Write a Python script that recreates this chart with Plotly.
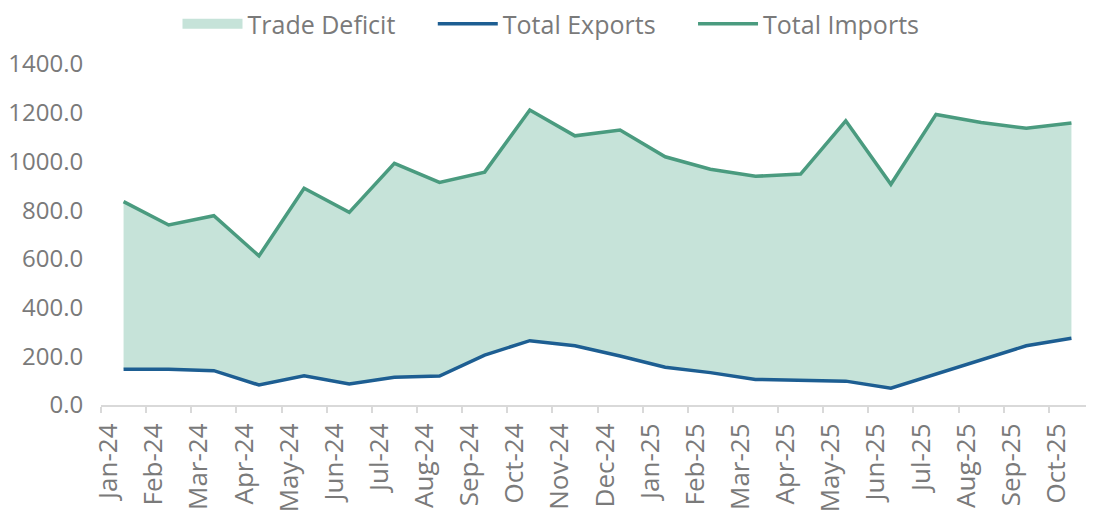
import plotly.graph_objects as go

months = ["Jan-24", "Feb-24", "Mar-24", "Apr-24", "May-24", "Jun-24", "Jul-24", "Aug-24",
          "Sep-24", "Oct-24", "Nov-24", "Dec-24", "Jan-25", "Feb-25", "Mar-25", "Apr-25",
          "May-25", "Jun-25", "Jul-25", "Aug-25", "Sep-25", "Oct-25"]
total_exports = [147, 147, 141, 82, 120, 86, 114, 119, 205, 264, 243, 201,
                 155, 133, 105, 103, 98, 69, 126, 185, 243, 274]
total_imports = [835, 739, 777, 612, 890, 791, 992, 914, 956, 1211, 1105, 1129,
                 1019, 968, 939, 948, 1167, 906, 1193, 1160, 1136, 1158]
y_ticks = [0, 200, 400, 600, 800, 1000, 1200, 1400]

BLUE = "#1D5E92"
GREEN = "#4A9B7F"
FILL = "#C6E3D9"
TEXT = "#7A7A7A"
AXIS = "#D9D9D9"
FONT = "Open Sans"
PAD = "\u00a0" * 5  # spacing between legend entries

x = list(range(len(months)))

fig = go.Figure()
# base of the deficit band (exports), not shown in legend
fig.add_trace(go.Scatter(x=x, y=total_exports, mode="lines", line=dict(width=0, color=FILL),
                         showlegend=False, hoverinfo="skip"))
# deficit band: filled from exports up to imports
fig.add_trace(go.Scatter(x=x, y=total_imports, mode="lines", line=dict(width=0, color=FILL),
                         fill="tonexty", fillcolor=FILL, name="Trade Deficit",
                         legendgroup="deficit", showlegend=False))
# legend swatch for the band
fig.add_trace(go.Scatter(x=[None], y=[None], mode="lines", line=dict(color=FILL, width=10),
                         name="Trade Deficit" + PAD, legendgroup="deficit"))
fig.add_trace(go.Scatter(x=x, y=total_exports, mode="lines",
                         line=dict(color=BLUE, width=3.5), name="Total Exports" + PAD))
fig.add_trace(go.Scatter(x=x, y=total_imports, mode="lines",
                         line=dict(color=GREEN, width=3.5), name="Total Imports"))

fig.update_layout(
    width=1086, height=504,
    margin=dict(l=93, r=0, t=56, b=107),
    paper_bgcolor="white", plot_bgcolor="white",
    font=dict(family=FONT, size=25, color=TEXT),
    legend=dict(orientation="h", xref="container", yref="container",
                x=0.5, xanchor="center", y=1 - 16 / 504, yanchor="middle",
                traceorder="normal",
                font=dict(size=25, color=TEXT), itemwidth=60,
                bgcolor="rgba(0,0,0,0)"),
    xaxis=dict(range=[-0.5, 21.5], tickmode="array",
               tickvals=[i - 0.33 for i in x], ticktext=months, tickangle=-90,
               ticks="outside", ticklen=6, tickcolor="rgba(0,0,0,0)",
               showline=True, linecolor=AXIS, linewidth=2,
               showgrid=False, zeroline=False, automargin=False,
               tickfont=dict(size=26, color=TEXT),
               minor=dict(tickmode="array", tickvals=[i - 0.5 for i in x], ticks="outside",
                          ticklen=6, tickcolor=AXIS, tickwidth=1.5, showgrid=False)),
    yaxis=dict(range=[0, 1400], tickmode="array", tickvals=y_ticks,
               tickformat=".1f", showgrid=False, zeroline=False, showline=False,
               ticks="outside", ticklen=12, tickcolor="rgba(0,0,0,0)",
               automargin=False, tickfont=dict(size=24, color=TEXT)),
)

fig.write_html("out.html")
